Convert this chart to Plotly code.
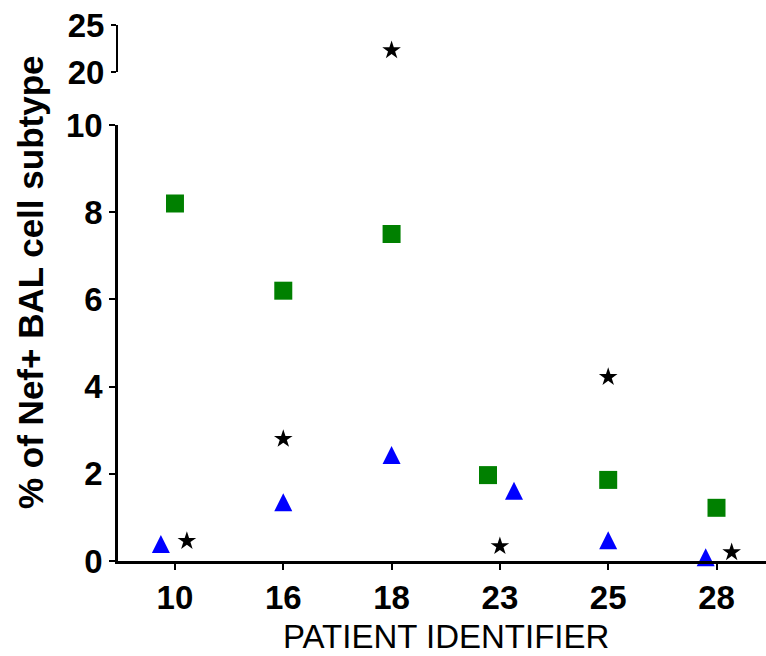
import numpy as np
import plotly.graph_objects as go

# Patients on the x axis
patients = ["10", "16", "18", "23", "25", "28"]

# % of Nef+ BAL cells for each subtype, one value per patient
subtype_square = [8.2, 6.2, 7.5, 1.97, 1.86, 1.22]
subtype_triangle = [0.32, 1.28, 2.36, 1.54, 0.41, 0.02]
subtype_star = [0.46, 2.80, 22.3, 0.34, 4.22, 0.20]

# horizontal nudges (in category widths) so overlapping symbols stay visible
nudge_square = [0, 0, 0, -0.11, 0, 0]
nudge_triangle = [-0.13, 0, 0, 0.13, 0, -0.10]
nudge_star = [0.11, 0, 0, 0, 0, 0.14]

BREAK = 15  # values above this go to the upper (20-25) segment

W, H = 766, 656
L, R, T, B = 118, 0, 25, 95
plot_h = H - T - B
lower_top = 0.8134
upper_bottom = 0.9123

font_family = "Liberation Sans, Arial, sans-serif"

fig = go.Figure()

series = [
    (subtype_square, nudge_square, dict(symbol="square", size=18, color="#008000")),
    # upward triangle drawn as a rotated arrow so that it is as tall as it is wide,
    # shifted so that its centroid sits on the value
    (subtype_triangle, nudge_triangle, dict(symbol="arrow-down", size=18, color="#0000FF",
                                            angle=180, standoff=12)),
    (subtype_star, nudge_star, dict(symbol="star", size=14, color="#000000")),
]

idx = np.arange(len(patients))
for values, nudge, mk in series:
    v = np.asarray(values, dtype=float)
    x = idx + np.asarray(nudge)
    low = v < BREAK
    marker = dict(line=dict(width=0), **mk)
    fig.add_trace(go.Scatter(x=x[low], y=v[low], mode="markers", marker=marker,
                             yaxis="y", cliponaxis=False, showlegend=False,
                             hoverinfo="skip"))
    if (~low).any():
        fig.add_trace(go.Scatter(x=x[~low], y=v[~low], mode="markers", marker=marker,
                                 yaxis="y2", cliponaxis=False, showlegend=False,
                                 hoverinfo="skip"))

tick_font = dict(family=font_family, size=33, color="#000000", weight="bold")

fig.update_layout(
    width=W, height=H,
    margin=dict(l=L, r=R, t=T, b=B, pad=0),
    paper_bgcolor="white", plot_bgcolor="white",
    xaxis=dict(
        range=[-0.526, 5.457],
        tickmode="array", tickvals=idx, ticktext=patients,
        showline=True, linecolor="black", linewidth=2.5,
        ticks="outside", ticklen=6, tickwidth=2, tickcolor="black",
        showgrid=False, zeroline=False,
        tickfont=tick_font,
    ),
    yaxis=dict(
        domain=[0, lower_top], range=[0, 10],
        tickvals=[0, 2, 4, 6, 8, 10],
        showline=True, linecolor="black", linewidth=2.5,
        ticks="outside", ticklen=6, tickwidth=2, tickcolor="black",
        showgrid=False, zeroline=False,
        tickfont=tick_font,
    ),
    yaxis2=dict(
        domain=[upper_bottom, 1], range=[20, 25],
        tickvals=[20, 25],
        anchor="x",
        showline=True, linecolor="black", linewidth=2,
        ticks="outside", ticklen=5, tickwidth=2, tickcolor="black",
        showgrid=False, zeroline=False,
        tickfont=tick_font,
    ),
    annotations=[
        dict(text="% of Nef+ BAL cell subtype", xref="paper", yref="paper",
             x=(30 - L) / (W - L - R), y=(H - B - 283) / plot_h,
             xanchor="center", yanchor="middle", textangle=-90, showarrow=False,
             font=dict(family=font_family, size=35, color="#000000", weight="bold")),
        dict(text="PATIENT IDENTIFIER", xref="paper", yref="paper",
             x=(446 - L) / (W - L - R), y=-(636 - (H - B)) / plot_h,
             xanchor="center", yanchor="middle", showarrow=False,
             font=dict(family=font_family, size=33, color="#000000")),
    ],
)

fig.write_html("out.html")
